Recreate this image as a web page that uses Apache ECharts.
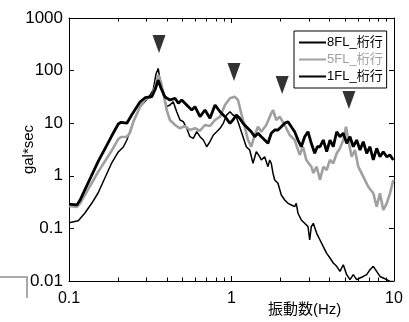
<!DOCTYPE html>
<html>
<head>
<meta charset="utf-8">
<script src="https://cdn.jsdelivr.net/npm/echarts@6/dist/echarts.min.js"></script>
<style>
html, body { margin: 0; padding: 0; background: #fff; }
#chart { width: 409px; height: 322px; }
</style>
</head>
<body>
<div id="chart"></div>
<script>
// 8FL 桁行 (細い黒線)
const freq8 = [0.1, 0.114, 0.125, 0.138, 0.151, 0.183, 0.201, 0.216, 0.227, 0.249, 0.274, 0.308, 0.33, 0.343, 0.354, 0.363, 0.381, 0.399, 0.418, 0.438, 0.46, 0.482, 0.505, 0.53, 0.555, 0.582, 0.611, 0.64, 0.671, 0.704, 0.737, 0.773, 0.811, 0.85, 0.89, 0.934, 0.979, 1.021, 1.07, 1.123, 1.177, 1.233, 1.294, 1.356, 1.421, 1.491, 1.525, 1.6, 1.677, 1.718, 1.757, 1.8, 1.844, 1.932, 2.025, 2.125, 2.227, 2.333, 2.448, 2.504, 2.566, 2.688, 2.821, 2.956, 3.028, 3.098, 3.187, 3.344, 3.504, 3.672, 3.853, 4.037, 4.23, 4.439, 4.651, 4.875, 5.115, 5.36, 5.616, 5.894, 6.176, 6.471, 6.792, 7.117, 7.457, 7.823, 8.197, 8.592, 9.019, 9.45, 9.901]
const amp8 = [0.128, 0.14, 0.194, 0.3, 0.471, 1.75, 2.84, 3.53, 4.79, 10.7, 20.6, 30.5, 42.8, 86.2, 110, 66.3, 34.4, 20.6, 22.2, 25.6, 16.5, 11.5, 10.7, 8.0, 5.54, 5.16, 6.89, 5.54, 4.79, 3.57, 4.45, 5.97, 6.89, 8.0, 9.96, 14.3, 16.5, 14.3, 13.3, 8.58, 5.54, 3.57, 3.09, 1.73, 2.87, 2.31, 2.0, 2.31, 1.49, 2.0, 1.73, 1.12, 0.832, 0.72, 0.432, 0.347, 0.3, 0.279, 0.259, 0.3, 0.194, 0.145, 0.125, 0.108, 0.0602, 0.108, 0.125, 0.0807, 0.0602, 0.0449, 0.0336, 0.0274, 0.022, 0.019, 0.0152, 0.0204, 0.0132, 0.0106, 0.0132, 0.0106, 0.0114, 0.0122, 0.0132, 0.0164, 0.019, 0.0152, 0.0122, 0.0114, 0.0106, 0.0098, 0.0098]

// 5FL 桁行 (灰色)
const freq5 = [0.1, 0.112, 0.117, 0.151, 0.183, 0.201, 0.209, 0.227, 0.237, 0.249, 0.274, 0.294, 0.323, 0.338, 0.354, 0.368, 0.381, 0.399, 0.418, 0.449, 0.482, 0.517, 0.555, 0.596, 0.64, 0.687, 0.737, 0.792, 0.85, 0.912, 0.979, 1.046, 1.096, 1.149, 1.206, 1.264, 1.324, 1.389, 1.456, 1.525, 1.637, 1.757, 1.8, 1.886, 1.979, 2.125, 2.281, 2.448, 2.628, 2.754, 2.886, 3.098, 3.187, 3.344, 3.504, 3.672, 3.853, 4.037, 4.23, 4.439, 4.651, 4.875, 5.065, 5.233, 5.49, 5.754, 6.029, 6.471, 6.947, 7.457, 7.823, 8.197, 8.592, 9.019, 9.45, 9.901]
const amp5 = [0.267, 0.256, 0.3, 1.18, 3.0, 5.0, 5.47, 5.54, 6.51, 10.7, 20.6, 28.5, 31.9, 46.7, 82.5, 60.7, 37.0, 17.8, 11.5, 9.24, 8.0, 8.85, 7.43, 8.0, 7.2, 9.24, 8.85, 11.5, 13.3, 22.2, 29.7, 31.9, 27.6, 15.4, 8.58, 4.79, 3.57, 5.97, 8.58, 6.89, 9.24, 15.4, 17.8, 11.5, 13.3, 9.24, 5.97, 4.79, 2.49, 3.57, 2.0, 1.49, 1.12, 1.49, 0.832, 1.49, 1.29, 2.0, 1.73, 2.68, 3.33, 4.79, 8.58, 4.79, 2.31, 3.09, 1.49, 0.962, 0.62, 0.465, 0.259, 0.465, 0.224, 0.3, 0.465, 0.832]

// 1FL 桁行 (太い黒線)
const freq1 = [0.1, 0.112, 0.117, 0.151, 0.183, 0.201, 0.209, 0.227, 0.243, 0.274, 0.294, 0.323, 0.338, 0.354, 0.368, 0.39, 0.418, 0.449, 0.471, 0.494, 0.53, 0.569, 0.596, 0.64, 0.687, 0.737, 0.792, 0.85, 0.912, 0.979, 1.021, 1.07, 1.123, 1.177, 1.233, 1.324, 1.389, 1.456, 1.525, 1.6, 1.677, 1.757, 1.844, 1.932, 2.025, 2.125, 2.227, 2.333, 2.448, 2.566, 2.688, 2.821, 2.956, 3.098, 3.251, 3.373, 3.504, 3.672, 3.853, 4.037, 4.23, 4.439, 4.651, 4.875, 5.115, 5.36, 5.616, 5.894, 6.176, 6.471, 6.792, 7.117, 7.457, 7.823, 8.197, 8.592, 9.019, 9.45, 9.901]
const amp1 = [0.29, 0.28, 0.347, 1.86, 5.7, 9.66, 10.4, 10.0, 14.3, 25.6, 30.5, 31.9, 42.8, 66, 46.7, 31.4, 27.6, 29.7, 23.9, 27.6, 22.2, 17.8, 20.6, 13.3, 17.8, 12.4, 22.2, 16.5, 13.3, 9.96, 11.5, 14.3, 12.4, 9.96, 8.58, 6.89, 5.54, 6.43, 5.54, 4.79, 4.15, 6.43, 7.43, 7.43, 8.58, 9.96, 10.7, 8.58, 6.89, 4.79, 3.57, 5.54, 6.89, 4.15, 2.68, 3.57, 3.57, 4.79, 2.87, 4.79, 3.57, 6.89, 5.54, 6.43, 4.15, 5.54, 3.57, 4.79, 3.09, 4.45, 2.68, 3.57, 2.0, 3.33, 2.31, 2.87, 2.31, 2.49, 2.0]

// ピーク位置の▼
const peakFreq = [0.358, 1.036, 2.05, 5.28]
const peakAmp = [320, 94, 53, 27.6]

// 目盛
const xMajor = [0.1, 1, 10]
const xMinor = [0.2, 0.3, 0.4, 0.5, 0.6, 0.7, 0.8, 0.9, 2, 3, 4, 5, 6, 7, 8, 9]
const yMajor = [0.01, 0.1, 1, 10, 100, 1000]

const FONT = "'Liberation Sans', 'Noto Sans CJK JP', sans-serif"

const pair = (fs, vs) => fs.map((f, i) => [f, vs[i]])

const xAxisBase = (pos, ticks, len, showLabel, showLine) => ({
  type: 'log',
  logBase: 10,
  min: 0.1,
  max: 10,
  position: pos,
  axisLine: { show: showLine, lineStyle: { color: '#000', width: 1 } },
  axisTick: { show: true, inside: true, length: len, customValues: ticks, lineStyle: { color: '#000' } },
  axisLabel: {
    show: showLabel,
    customValues: ticks,
    color: '#000',
    fontSize: 16,
    fontFamily: FONT,
    margin: 10,
    formatter: (v) => String(v)
  },
  splitLine: { show: false }
})

const yAxisBase = (pos, showLabel) => ({
  type: 'log',
  logBase: 10,
  min: 0.01,
  max: 1000,
  position: pos,
  axisLine: { show: true, lineStyle: { color: '#000', width: 1 } },
  axisTick: { show: true, inside: true, length: 5, customValues: yMajor, lineStyle: { color: '#000' } },
  axisLabel: {
    show: showLabel,
    customValues: yMajor,
    color: '#000',
    fontSize: 17,
    fontFamily: FONT,
    margin: 6,
    formatter: (v) => String(v)
  },
  splitLine: { show: false }
})

const chart = echarts.init(document.getElementById('chart'), null, { renderer: 'canvas' })

const yMain = yAxisBase('left', true)
yMain.name = 'gal*sec'
yMain.nameLocation = 'middle'
yMain.nameGap = 33
yMain.nameMoveOverlap = false
yMain.nameTextStyle = { color: '#000', fontSize: 15, fontFamily: FONT }

const option = {
  animation: false,
  backgroundColor: '#fff',
  grid: { left: 69, right: 15, top: 18, bottom: 41, containLabel: false },
  xAxis: [
    xAxisBase('bottom', xMajor, 5, true, true),
    xAxisBase('bottom', xMinor, 3.5, false, false),
    xAxisBase('top', xMajor, 5, false, true),
    xAxisBase('top', xMinor, 3.5, false, false)
  ],
  yAxis: [
    yMain,
    yAxisBase('right', false)
  ],
  legend: {
    orient: 'vertical',
    left: 294,
    top: 31,
    width: 93,
    padding: [5, 4, 5, 4],
    itemGap: 4,
    itemWidth: 27,
    itemHeight: 10,
    itemStyle: { opacity: 0 },
    backgroundColor: '#fff',
    borderColor: '#000',
    borderWidth: 1,
    borderRadius: 0,
    textStyle: { color: '#000', fontSize: 13, fontFamily: FONT, padding: [0, 0, 0, -4] },
    data: [
      { name: '8FL_桁行' },
      { name: '5FL_桁行', textStyle: { color: '#a0a0a0' } },
      { name: '1FL_桁行' }
    ]
  },
  graphic: [
    {
      type: 'text',
      left: 268,
      top: 302,
      style: { text: '振動数(Hz)', fill: '#000', fontSize: 15, fontFamily: FONT }
    },
    {
      type: 'polyline',
      shape: { points: [[0, 277], [27, 277], [27, 298]] },
      style: { stroke: '#aaaaaa', lineWidth: 2, fill: null }
    }
  ],
  series: [
    {
      name: '8FL_桁行',
      type: 'line',
      data: pair(freq8, amp8),
      symbol: 'none',
      clip: true,
      lineStyle: { color: '#000', width: 1.5 },
      itemStyle: { color: '#000' }
    },
    {
      name: '5FL_桁行',
      type: 'line',
      data: pair(freq5, amp5),
      symbol: 'none',
      clip: true,
      lineStyle: { color: '#a0a0a0', width: 2.6 },
      itemStyle: { color: '#a0a0a0' }
    },
    {
      name: '1FL_桁行',
      type: 'line',
      data: pair(freq1, amp1),
      symbol: 'none',
      clip: true,
      lineStyle: { color: '#000', width: 2.8 },
      itemStyle: { color: '#000' }
    },
    {
      name: 'peak',
      type: 'scatter',
      data: pair(peakFreq, peakAmp),
      symbol: 'triangle',
      symbolRotate: 180,
      symbolSize: [13, 18],
      itemStyle: { color: '#000' },
      z: 5
    }
  ]
}

chart.setOption(option)
</script>
</body>
</html>
